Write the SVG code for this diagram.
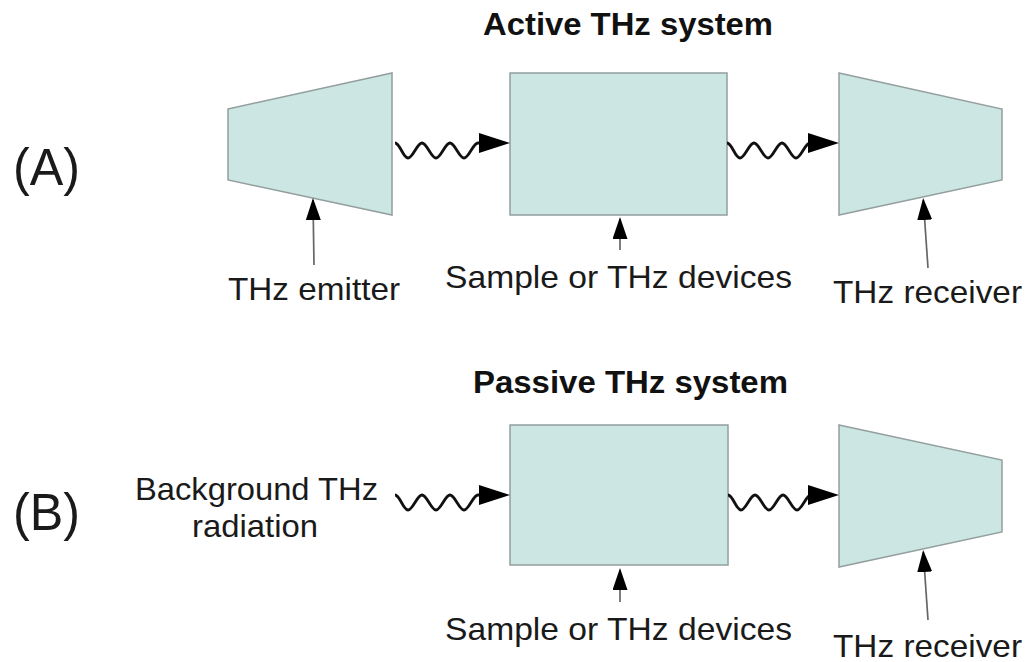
<svg xmlns="http://www.w3.org/2000/svg" width="1029" height="662" viewBox="0 0 1029 662">
<style>
.shape{fill:#cce6e3;stroke:#939f9e;stroke-width:1.5}
.wave{fill:none;stroke:#111;stroke-width:2.8}
.ptr{fill:none;stroke:#666;stroke-width:1.7}
.lbl{font-family:"Liberation Sans",Arial,sans-serif;font-size:32px;fill:#1a1a1a}
.title{font-family:"Liberation Sans",Arial,sans-serif;font-size:31px;font-weight:bold;fill:#111}
.tag{font-family:"Liberation Sans",Arial,sans-serif;font-size:51px;fill:#1a1a1a}
</style>
<defs>
<marker id="wh" markerUnits="userSpaceOnUse" viewBox="0 0 31 20" refX="21" refY="10" markerWidth="31" markerHeight="20" orient="auto">
<path d="M0,0 L31,10 L0,20 z" fill="#000"/>
</marker>
<marker id="ph" markerUnits="userSpaceOnUse" viewBox="0 0 22 15" refX="20" refY="7.5" markerWidth="22" markerHeight="15" orient="auto">
<path d="M0,0 L22,7.5 L0,15 z" fill="#000"/>
</marker>
</defs>
<rect width="1029" height="662" fill="#fff"/>

<text class="title" x="483" y="35" textLength="290" lengthAdjust="spacingAndGlyphs">Active THz system</text>
<text class="title" x="473" y="393" textLength="315" lengthAdjust="spacingAndGlyphs">Passive THz system</text>
<text class="tag" x="13" y="185" textLength="67" lengthAdjust="spacingAndGlyphs">(A)</text>
<text class="tag" x="13" y="530" textLength="67" lengthAdjust="spacingAndGlyphs">(B)</text>

<g id="emitterA">
<polygon class="shape" points="228,109 392,73 392,215 228,180"/>
<text class="lbl" x="228" y="300" textLength="172" lengthAdjust="spacingAndGlyphs">THz emitter</text>
</g>
<g id="sampleA">
<rect class="shape" x="510" y="73" width="217" height="142"/>
<text class="lbl" x="445" y="288" textLength="347" lengthAdjust="spacingAndGlyphs">Sample or THz devices</text>
</g>
<g id="receiverA">
<polygon class="shape" points="839,73 1002,109 1002,180 839,215"/>
<text class="lbl" x="833" y="303" textLength="189" lengthAdjust="spacingAndGlyphs">THz receiver</text>
</g>
<g id="background">
<text class="lbl" x="135" y="500" textLength="243" lengthAdjust="spacingAndGlyphs">Background THz</text>
<text class="lbl" x="192" y="537" textLength="126" lengthAdjust="spacingAndGlyphs">radiation</text>
</g>
<g id="sampleB">
<rect class="shape" x="510" y="425" width="218" height="140"/>
<text class="lbl" x="445" y="640" textLength="347" lengthAdjust="spacingAndGlyphs">Sample or THz devices</text>
</g>
<g id="receiverB">
<polygon class="shape" points="839,425 1002,460 1002,532 839,567"/>
<text class="lbl" x="833" y="657" textLength="189" lengthAdjust="spacingAndGlyphs">THz receiver</text>
</g>

<g id="connectors">
<path class="wave" marker-end="url(#wh)" d="M395,143 c5,0 8,15 13,15 c5,0 9,-15 14,-15 c5,0 9,15 14,15 c5,0 9,-15 14,-15 c5,0 9,15 14,15 c5,0 9,-15 14,-15 L500,143"/>
<path class="wave" marker-end="url(#wh)" d="M727,143 c5,0 8,15 13,15 c5,0 9,-15 14,-15 c5,0 9,15 14,15 c5,0 9,-15 14,-15 c5,0 9,15 14,15 c5,0 9,-15 14,-15 L829,143"/>
<path class="wave" marker-end="url(#wh)" d="M395,495 c5,0 8,15 13,15 c5,0 9,-15 14,-15 c5,0 9,15 14,15 c5,0 9,-15 14,-15 c5,0 9,15 14,15 c5,0 9,-15 14,-15 L500,495"/>
<path class="wave" marker-end="url(#wh)" d="M728,495 c5,0 8,15 13,15 c5,0 9,-15 14,-15 c5,0 9,15 14,15 c5,0 9,-15 14,-15 c5,0 9,15 14,15 c5,0 9,-15 14,-15 L829,495"/>
<path class="ptr" marker-end="url(#ph)" d="M314,265 L313,200"/>
<path class="ptr" marker-end="url(#ph)" d="M620,250 L620,219"/>
<path class="ptr" marker-end="url(#ph)" d="M928,268 L923.3,200"/>
<path class="ptr" marker-end="url(#ph)" d="M620,602 L620,570"/>
<path class="ptr" marker-end="url(#ph)" d="M928,620 L923.3,552"/>
</g>
</svg>
